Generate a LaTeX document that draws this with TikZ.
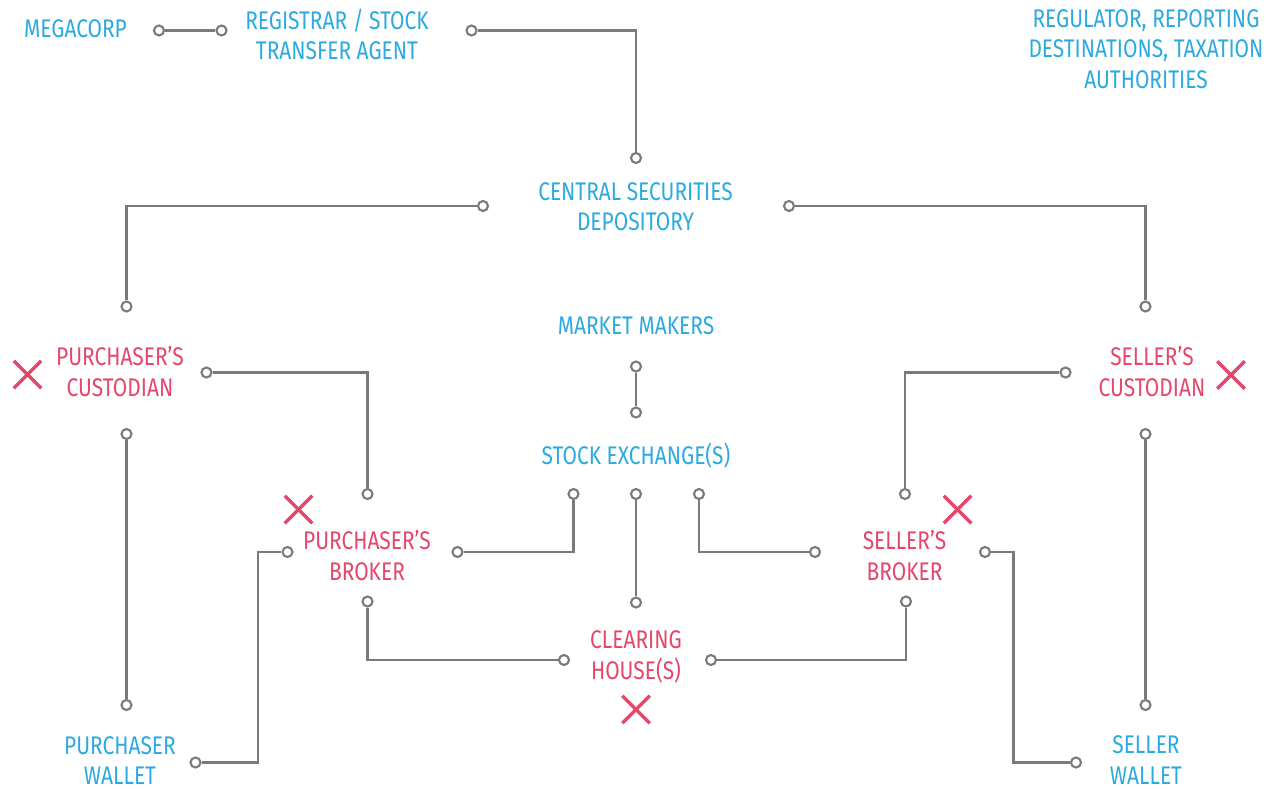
\documentclass[tikz,border=0pt]{standalone}
\usepackage{fontspec}
\setmainfont{Fira Sans}[FakeStretch=0.82]
\usetikzlibrary{shapes.misc}
\definecolor{myblue}{HTML}{2CAAE0}
\definecolor{myred}{HTML}{E6466B}
\definecolor{mygrey}{HTML}{7A7A7A}
\begin{document}
\begin{tikzpicture}[x=1pt,y=-1pt,
  lbl/.style={font=\fontsize{25.5}{30.5}\selectfont, align=center, inner sep=0pt, anchor=north, yshift=2.5pt},
  bluelbl/.style={lbl, text=myblue},
  redlbl/.style={lbl, text=myred},
  port/.style={circle, draw=mygrey, fill=white, line width=2.1pt, minimum size=10pt, inner sep=0pt},
  wire/.style={draw=mygrey, line width=2.1pt},
  xmark/.style={cross out, draw=myred, line width=3.5pt, minimum size=24pt, inner sep=0pt}]
\useasboundingbox (0,0) rectangle (1270,789);
\fill[white] (0,0) rectangle (1270,789);

% labels
\node[bluelbl] (mega) at (75.5,21.5) {MEGACORP};
\node[bluelbl] (reg) at (337,11) {REGISTRAR / STOCK\\TRANSFER AGENT};
\node[bluelbl] (regu) at (1146,11.5) {REGULATOR, REPORTING\\DESTINATIONS, TAXATION\\AUTHORITIES};
\node[bluelbl] (csd) at (635.5,184.5) {CENTRAL SECURITIES\\DEPOSITORY};
\node[bluelbl] (mm) at (636,318.5) {MARKET MAKERS};
\node[bluelbl, yshift=2.5pt] (se) at (636,447.5) {STOCK EXCHANGE(S)};
\node[redlbl] (pc) at (120,349) {PURCHASER'S\\CUSTODIAN};
\node[redlbl] (sc) at (1152,349) {SELLER'S\\CUSTODIAN};
\node[redlbl] (pb) at (367,533) {PURCHASER'S\\BROKER};
\node[redlbl] (sb) at (904.5,533) {SELLER'S\\BROKER};
\node[redlbl] (ch) at (636,633) {CLEARING\\HOUSE(S)};
\node[bluelbl] (pw) at (120,738.5) {PURCHASER\\WALLET};
\node[bluelbl] (sw) at (1146,738) {SELLER\\WALLET};

% crosses
\node[xmark] (xpc) at (27.5,374.5) {};
\node[xmark] (xsc) at (1231,375) {};
\node[xmark] (xpb) at (298.5,509.5) {};
\node[xmark] (xsb) at (957.5,509.5) {};
\node[xmark] (xch) at (636,709.5) {};

% ports
\node[port] (pMega) at (159,30.5) {};
\node[port] (pRegL) at (221.5,30.5) {};
\node[port] (pRegR) at (471.5,30.5) {};
\node[port] (pCsdT) at (636,158) {};
\node[port] (pCsdL) at (483,206) {};
\node[port] (pCsdR) at (789,206) {};
\node[port] (pPcT) at (126.5,306.5) {};
\node[port] (pScT) at (1145.5,306.5) {};
\node[port] (pMm) at (636,366.5) {};
\node[port] (pSeT) at (636,412.5) {};
\node[port] (pPcR) at (206.5,372.5) {};
\node[port] (pScL) at (1065.5,372.5) {};
\node[port] (pPcB) at (126.5,434) {};
\node[port] (pScB) at (1145.5,434) {};
\node[port] (pSeL) at (573.5,494) {};
\node[port] (pSeM) at (636,494) {};
\node[port] (pSeR) at (699,494) {};
\node[port] (pPbT) at (367.5,494) {};
\node[port] (pSbT) at (905,494) {};
\node[port] (pPbL) at (287.5,552) {};
\node[port] (pPbR) at (457.5,552) {};
\node[port] (pSbL) at (815,552) {};
\node[port] (pSbR) at (985,552) {};
\node[port] (pPbB) at (367.5,601.5) {};
\node[port] (pSbB) at (906,601.5) {};
\node[port] (pChT) at (636,602.5) {};
\node[port] (pChL) at (564,660) {};
\node[port] (pChR) at (711,660) {};
\node[port] (pPwT) at (126.5,705) {};
\node[port] (pSwT) at (1145.5,705) {};
\node[port] (pPwR) at (195.5,762.5) {};
\node[port] (pSwL) at (1076,762.5) {};

% wires
\draw[wire] (pMega) -- (pRegL);
\draw[wire] (pRegR) -| (pCsdT);
\draw[wire] (pCsdL) -| (pPcT);
\draw[wire] (pCsdR) -| (pScT);
\draw[wire] (pMm) -- (pSeT);
\draw[wire] (pPcR) -| (pPbT);
\draw[wire] (pPcB) -- (pPwT);
\draw[wire] (pPwR) -- ++(62.5,0) |- (pPbL);
\draw[wire] (pPbR) -| (pSeL);
\draw[wire] (pSeM) -- (pChT);
\draw[wire] (pSeR) |- (pSbL);
\draw[wire] (pPbB) |- (pChL);
\draw[wire] (pChR) -| (pSbB);
\draw[wire] (pScL) -| (pSbT);
\draw[wire] (pSbR) -- ++(28.5,0) |- (pSwL);
\draw[wire] (pScB) -- (pSwT);
\end{tikzpicture}
\end{document}
